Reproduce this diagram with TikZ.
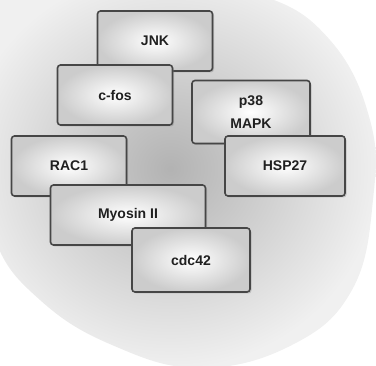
\documentclass[tikz,border=0pt]{standalone}
\usepackage{fontspec}
\setsansfont{Liberation Sans}
\usetikzlibrary{shadows}
\tikzset{
  protein/.style={draw=gray!55!black, line width=1.6pt, rounded corners=3pt,
    minimum width=115pt, minimum height=60pt, fill=gray!10,
    font=\sffamily\bfseries\fontsize{14}{17}\selectfont, text=gray!25!black, align=center,
    drop shadow={opacity=0.35, shadow xshift=1.5pt, shadow yshift=-1.5pt},
    path picture={\shade[inner color=white, outer color=gray!40]
      (path picture bounding box.south west) rectangle (path picture bounding box.north east);}}
}
\begin{document}
\begin{tikzpicture}[x=1pt,y=-1pt]
  \useasboundingbox (0,0) rectangle (376,366);
  % cell
  \begin{scope}
    \clip (0,0) rectangle (376,366);
    \shade[inner color=gray!60, outer color=gray!12]
      plot[smooth cycle, tension=0.7] coordinates {
        (-30,60) (20,-15) (150,-20) (260,-5) (330,40) (370,120) (373,200)
        (352,290) (292,345) (200,368) (112,345) (40,300) (-5,240) (-20,150)};
  \end{scope}
  % proteins
  \node[protein] (jnk) at (155,41) {JNK};
  \node[protein] (cfos) at (115,95) {c-fos};
  \node[protein, minimum width=118pt, minimum height=63pt] (p38) at (251,112) {p38\\[6pt]MAPK};
  \node[protein, minimum width=120pt] (hsp) at (285,166) {HSP27};
  \node[protein] (rac) at (69,166) {RAC1};
  \node[protein, minimum width=155pt] (myo) at (128,215) {Myosin II};
  \node[protein, minimum width=118pt, minimum height=64pt] (cdc) at (191,260) {cdc42};
\end{tikzpicture}
\end{document}
